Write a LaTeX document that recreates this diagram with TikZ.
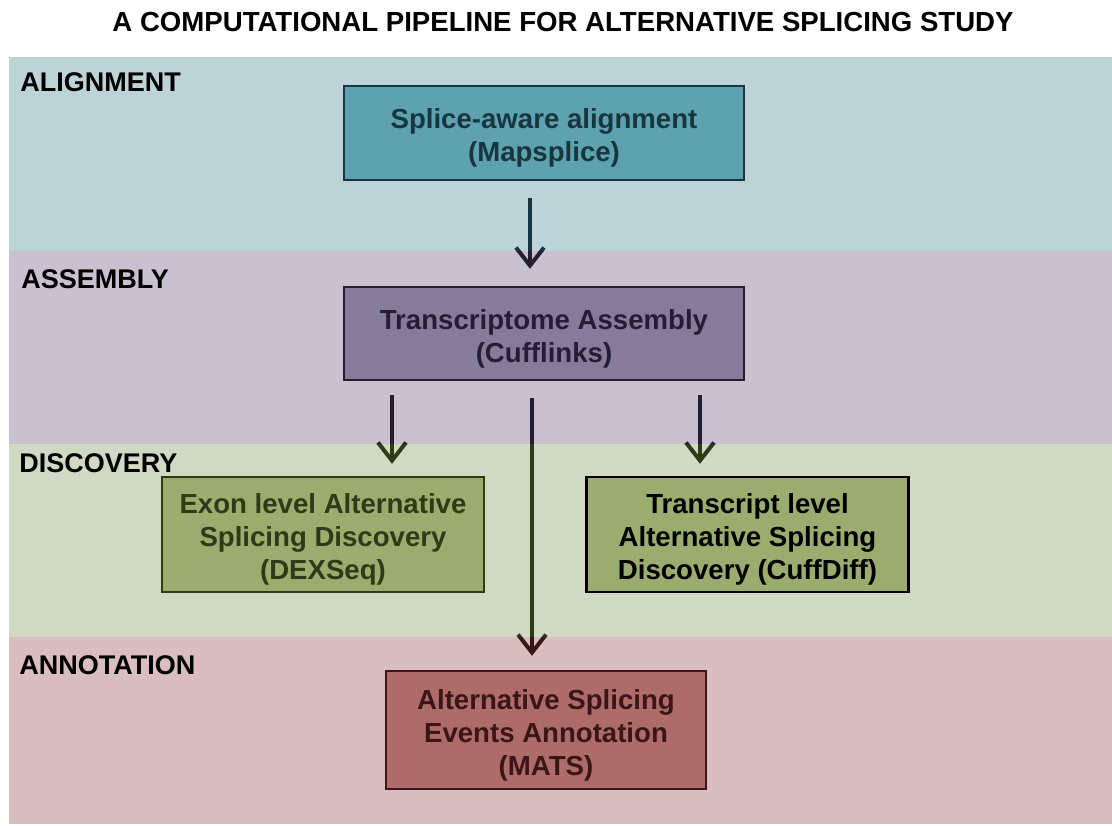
\documentclass[tikz,border=0pt]{standalone}
\usepackage{fontspec}
\setmainfont{Liberation Sans}
\usepackage{tikz}
\usetikzlibrary{arrows.meta}
\definecolor{alignBand}{HTML}{BED3D7}
\definecolor{assemBand}{HTML}{C9C1D0}
\definecolor{discBand}{HTML}{D0D9C3}
\definecolor{annoBand}{HTML}{D9BDBF}
\definecolor{alignBox}{HTML}{5EA2AF}
\definecolor{alignInk}{HTML}{173640}
\definecolor{assemBox}{HTML}{877B9B}
\definecolor{assemInk}{HTML}{241E33}
\definecolor{discBox}{HTML}{9BAD6E}
\definecolor{discInk}{HTML}{2E3A18}
\definecolor{annoBox}{HTML}{AD6B6A}
\definecolor{annoInk}{HTML}{3A1616}
\newcommand\lift{\rule{0pt}{15pt}}
\tikzstyle{stage}=[rectangle, draw, line width=1.2pt, align=center, inner sep=0pt, font=\bfseries\fontsize{13.8}{16.5}\selectfont]
\tikzstyle{wide}=[stage, minimum width=200pt, minimum height=47pt]
\tikzstyle{half}=[stage, minimum width=161pt, minimum height=57.5pt]
\tikzstyle{phase}=[anchor=west, inner sep=0pt, font=\bfseries\fontsize{13.5}{16}\selectfont]
\tikzstyle{edge}=[line width=2pt, -{Straight Barb[length=9pt, width=14pt]}]

\begin{document}
\begin{tikzpicture}[x=0.5pt, y=-0.5pt]
	\useasboundingbox (0,0) rectangle (1112,825);
	% bands
	\fill[alignBand] (9,57) rectangle (1112,251);
	\fill[assemBand] (9,251) rectangle (1112,444);
	\fill[discBand] (9,444) rectangle (1112,637);
	\fill[annoBand] (9,637) rectangle (1112,824);
	\draw (563,22) node[font=\bfseries\fontsize{13.8}{16}\selectfont] (title) {A COMPUTATIONAL PIPELINE FOR ALTERNATIVE SPLICING STUDY};
	\draw (20,82) node[phase] (pAlign) {ALIGNMENT};
	\draw (21,279) node[phase] (pAssem) {ASSEMBLY};
	\draw (19,463) node[phase] (pDisc) {DISCOVERY};
	\draw (19,665) node[phase] (pAnno) {ANNOTATION};
	% stages
	\draw (544,133) node[wide, fill=alignBox, draw=alignInk, text=alignInk] (map) {\lift Splice-aware alignment\\(Mapsplice)};
	\draw (544,333.5) node[wide, fill=assemBox, draw=assemInk, text=assemInk, minimum height=46.5pt] (cuff) {\lift Transcriptome Assembly\\(Cufflinks)};
	\draw (323,534.5) node[half, fill=discBox, draw=discInk, text=discInk] (dex) {\lift Exon level Alternative\\Splicing Discovery\\(DEXSeq)};
	\draw (747.5,534.5) node[half, fill=discBox, draw=black, text=black] (diff) {\lift Transcript level\\Alternative Splicing\\Discovery (CuffDiff)};
	\draw (546,730) node[stage, minimum width=160pt, minimum height=59pt, fill=annoBox, draw=annoInk, text=annoInk] (mats) {\lift Alternative Splicing\\Events Annotation\\(MATS)};
	\coordinate (xa) at (530,0);
	\coordinate (xb) at (392,0);
	\coordinate (xc) at (700,0);
	\coordinate (xd) at (532,0);
	% arrows, tinted band by band
	\foreach \top/\bot/\ink in {57/251/alignInk, 251/444/assemInk, 444/637/discInk, 637/825/annoInk} {
		\begin{scope}
			\clip (0,\top) rectangle (1112,\bot);
			\draw[edge, draw=\ink, shorten <=8.5pt, shorten >=8.5pt] (map.south -| xa) -- (cuff.north -| xa);
			\draw[edge, draw=\ink, shorten <=7pt, shorten >=6pt] (cuff.south -| xb) -- (dex.north -| xb);
			\draw[edge, draw=\ink, shorten <=7pt, shorten >=6pt] (cuff.south -| xc) -- (diff.north -| xc);
			\draw[edge, draw=\ink, shorten <=8.5pt, shorten >=7pt] (cuff.south -| xd) -- (mats.north -| xd);
		\end{scope}
	}
\end{tikzpicture}
\end{document}
